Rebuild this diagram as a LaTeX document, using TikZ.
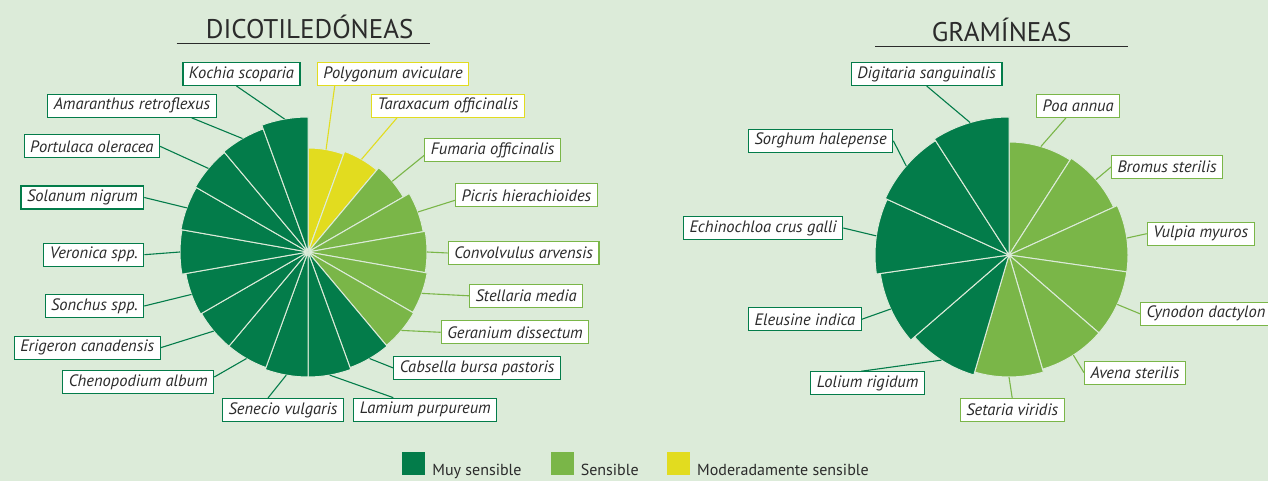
\documentclass[tikz,border=0pt]{standalone}
\usepackage{fontspec}
\setmainfont{PT Sans}
\usepackage{tikz}
\usetikzlibrary{positioning}

\definecolor{dkgreen}{HTML}{037C4A}
\definecolor{ltgreen}{HTML}{7AB648}
\definecolor{yel}{HTML}{E2DC1F}
\definecolor{bgcol}{HTML}{DCEBD9}
\definecolor{txtcol}{HTML}{2B2B2B}

\tikzset{
  lbl/.style={draw, fill=white, line width=1.1pt, inner xsep=6pt, inner ysep=0pt, minimum height=23pt, text=txtcol, font=\fontsize{16.5}{18}\selectfont\itshape},
  dk/.style={lbl, draw=dkgreen},
  lt/.style={lbl, draw=ltgreen},
  ye/.style={lbl, draw=yel},
  lnk/.style={line width=1.1pt},
  wedge/.style={draw=bgcol, line width=1pt, line join=round},
  ttl/.style={text=txtcol, font=\fontsize{27}{30}\selectfont},
  sq/.style={minimum size=23pt, inner sep=0pt},
  legtxt/.style={text=txtcol, font=\fontsize{16}{18}\selectfont, inner sep=0pt, anchor=base west}
}

\begin{document}
\begin{tikzpicture}[x=1pt, y=1pt]
\useasboundingbox (0,0) rectangle (1268,481);
\fill[bgcol] (0,0) rectangle (1268,481);

\coordinate (dc) at (308,229);
\coordinate (gc) at (1009,226);

\foreach \r/\col [count=\i from 0] in {104/yel, 107/yel, 110/ltgreen, 117/ltgreen, 119/ltgreen, 121/ltgreen, 122/ltgreen, 123/dkgreen, 125/dkgreen, 125/dkgreen, 123/dkgreen, 123/dkgreen, 124/dkgreen, 128/dkgreen, 129/dkgreen, 130/dkgreen, 131/dkgreen, 135/dkgreen}{
  \pgfmathsetmacro\aa{90-20*\i}
  \pgfmathsetmacro\ab{70-20*\i}
  \pgfmathsetmacro\am{80-20*\i}
  \fill[\col, wedge] (dc) -- ++(\aa:\r pt) arc[start angle=\aa, end angle=\ab, radius=\r pt] -- cycle;
  \coordinate (dw\i) at ([shift={(\am:\r pt)}]dc);
}

\foreach \r/\col [count=\i from 0] in {113/ltgreen, 115/ltgreen, 119/ltgreen, 119/ltgreen, 119/ltgreen, 122/ltgreen, 125/dkgreen, 130/dkgreen, 134/dkgreen, 136/dkgreen, 138/dkgreen}{
  \pgfmathsetmacro\aa{90-360/11*\i}
  \pgfmathsetmacro\ab{90-360/11*(\i+1)}
  \pgfmathsetmacro\am{90-360/11*(\i+0.5)}
  \fill[\col, wedge] (gc) -- ++(\aa:\r pt) arc[start angle=\aa, end angle=\ab, radius=\r pt] -- cycle;
  \coordinate (gw\i) at ([shift={(\am:\r pt)}]gc);
}

\node[ttl] (dicot) at (309.7,454) {DICOTILEDÓNEAS};
\draw[txtcol, line width=1.2pt] (176.7,437.7) -- (430,437.7);
\node[ttl] (gram) at (1001.7,451) {GRAMÍNEAS};
\draw[txtcol, line width=1.2pt] (875,434.3) -- (1128.3,434.3);

\node[dk] (kochia) at (241.5,407) {Kochia scoparia};
\node[dk, anchor=east] (amaranthus) at (216.7,375.2) {Amaranthus retroflexus};
\node[dk, anchor=east] (portulaca) at (160,334.7) {Portulaca oleracea};
\node[dk, anchor=east] (solanum) at (144.3,283.5) {Solanum nigrum};
\node[dk, anchor=east] (veronica) at (144.3,226.3) {Veronica spp.};
\node[dk, anchor=east] (sonchus) at (144.3,175) {Sonchus spp.};
\node[dk, anchor=east] (erigeron) at (160.7,133.3) {Erigeron canadensis};
\node[dk, anchor=east] (chenopodium) at (214.3,99) {Chenopodium album};
\node[dk] (senecio) at (283,71) {Senecio vulgaris};
\node[ye, anchor=west] (polygonum) at (316.7,407) {Polygonum aviculare};
\node[ye, anchor=west] (taraxacum) at (371,375.2) {Taraxacum officinalis};
\node[lt, anchor=west] (fumaria) at (424.3,330.7) {Fumaria officinalis};
\node[lt, anchor=west] (picris) at (455,285.7) {Picris hierachioides};
\node[lt, anchor=west] (convolvulus) at (447.7,228) {Convolvulus arvensis};
\node[lt, anchor=west] (stellaria) at (469,185.2) {Stellaria media};
\node[lt, anchor=west] (geranium) at (440.7,148.7) {Geranium dissectum};
\node[dk, anchor=west] (cabsella) at (393.3,113) {Cabsella bursa pastoris};
\node[dk, anchor=west] (lamium) at (353.3,71.3) {Lamium purpureum};

\draw[lnk, dkgreen] ([xshift=-5pt]kochia.south) -- (dw17);
\draw[lnk, dkgreen] ([xshift=-25pt]amaranthus.south east) -- (dw16);
\draw[lnk, dkgreen] (portulaca.east) -- (dw15);
\draw[lnk, dkgreen] (solanum.east) -- (dw14);
\draw[lnk, dkgreen] (veronica.east) -- (dw13);
\draw[lnk, dkgreen] (sonchus.east) -- (dw12);
\draw[lnk, dkgreen] (erigeron.east) -- (dw11);
\draw[lnk, dkgreen] ([yshift=5pt]chenopodium.east) -- (dw10);
\draw[lnk, dkgreen] ([xshift=-15pt]senecio.north) -- (dw9);
\draw[lnk, yel] ([xshift=18pt]polygonum.south west) -- (dw0);
\draw[lnk, yel] ([xshift=26pt]taraxacum.south west) -- (dw1);
\draw[lnk, ltgreen] ([yshift=-5pt]fumaria.west) -- (dw2);
\draw[lnk, ltgreen] ([yshift=-5pt]picris.west) -- (dw3);
\draw[lnk, ltgreen] (convolvulus.west) -- (dw4);
\draw[lnk, ltgreen] (stellaria.west) -- (dw5);
\draw[lnk, ltgreen] (geranium.west) -- (dw6);
\draw[lnk, dkgreen] (cabsella.west) -- (dw7);
\draw[lnk, dkgreen] ([xshift=40pt]lamium.north west) -- (dw8);

\node[dk] (digitaria) at (926.7,407) {Digitaria sanguinalis};
\node[dk, anchor=east] (sorghum) at (893.3,340.2) {Sorghum halepense};
\node[dk, anchor=east] (echinochloa) at (843.3,253) {Echinochloa crus galli};
\node[dk, anchor=east] (eleusine) at (861.7,161.7) {Eleusine indica};
\node[dk, anchor=east] (lolium) at (925,97.7) {Lolium rigidum};
\node[lt] (setaria) at (1012.2,71) {Setaria viridis};
\node[lt, anchor=west] (avena) at (1084,108.3) {Avena sterilis};
\node[lt, anchor=west] (cynodon) at (1140,167.2) {Cynodon dactylon};
\node[lt, anchor=west] (vulpia) at (1146.7,247.3) {Vulpia myuros};
\node[lt, anchor=west] (bromus) at (1111,314) {Bromus sterilis};
\node[lt, anchor=west] (poa) at (1036,375.2) {Poa annua};

\draw[lnk, dkgreen] (digitaria.south) -- (gw10);
\draw[lnk, dkgreen] (sorghum.east) -- (gw9);
\draw[lnk, dkgreen] (echinochloa.east) -- (gw8);
\draw[lnk, dkgreen] (eleusine.east) -- (gw7);
\draw[lnk, dkgreen] ([xshift=51pt]lolium.north west) -- (gw6);
\draw[lnk, ltgreen] (setaria.north) -- (gw5);
\draw[lnk, ltgreen] (avena.west) -- (gw4);
\draw[lnk, ltgreen] (cynodon.west) -- (gw3);
\draw[lnk, ltgreen] (vulpia.west) -- (gw2);
\draw[lnk, ltgreen] (bromus.west) -- (gw1);
\draw[lnk, ltgreen] ([xshift=30pt]poa.south west) -- (gw0);

\node[sq, fill=dkgreen] (lgdk) at (413.5,17) {};
\node[sq, fill=ltgreen, right=126pt of lgdk] (lglt) {};
\node[sq, fill=yel, right=92pt of lglt] (lgye) {};
\node[legtxt] (lgdktxt) at ([xshift=7pt]lgdk.south east) {Muy sensible};
\node[legtxt] (lglttxt) at ([xshift=6pt]lglt.south east) {Sensible};
\node[legtxt] (lgyetxt) at ([xshift=7pt]lgye.south east) {Moderadamente sensible};
\end{tikzpicture}
\end{document}
